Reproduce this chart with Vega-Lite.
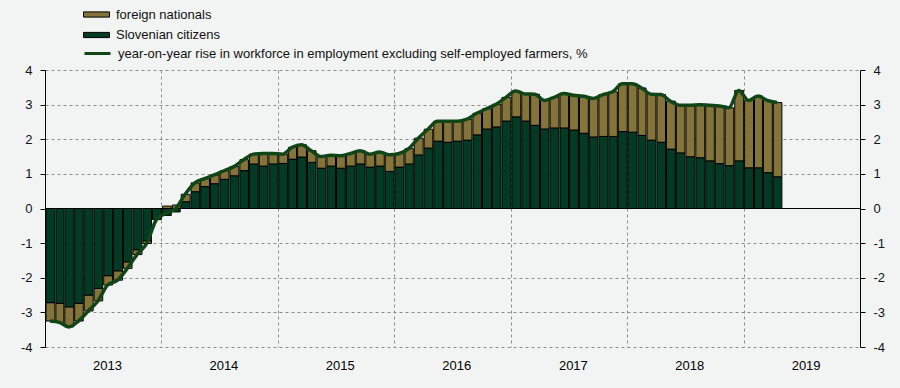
{
  "$schema": "https://vega.github.io/schema/vega-lite/v6.json",
  "width": 815,
  "height": 277,
  "autosize": "none",
  "padding": {"left": 45, "top": 70, "right": 40, "bottom": 41},
  "background": "#f2f4f3",
  "config": {
    "view": {"stroke": null},
    "font": "Liberation Sans",
    "axis": {"labelFont": "Liberation Sans", "labelFontSize": 13, "labelColor": "#111122", "title": null},
    "legend": {"labelFont": "Liberation Sans", "labelFontSize": 13, "labelColor": "#111111", "labelLimit": 700, "padding": 0, "title": null}
  },
  "data": {
    "values": [
      {"date": "2013-01-01", "slovenian": -2.72, "foreign": -0.53, "total": -3.25},
      {"date": "2013-02-01", "slovenian": -2.74, "foreign": -0.55, "total": -3.29},
      {"date": "2013-03-01", "slovenian": -2.84, "foreign": -0.58, "total": -3.42},
      {"date": "2013-04-01", "slovenian": -2.74, "foreign": -0.51, "total": -3.25},
      {"date": "2013-05-01", "slovenian": -2.50, "foreign": -0.46, "total": -2.96},
      {"date": "2013-06-01", "slovenian": -2.31, "foreign": -0.36, "total": -2.67},
      {"date": "2013-07-01", "slovenian": -1.94, "foreign": -0.27, "total": -2.21},
      {"date": "2013-08-01", "slovenian": -1.80, "foreign": -0.27, "total": -2.07},
      {"date": "2013-09-01", "slovenian": -1.54, "foreign": -0.19, "total": -1.73},
      {"date": "2013-10-01", "slovenian": -1.19, "foreign": -0.14, "total": -1.33},
      {"date": "2013-11-01", "slovenian": -0.93, "foreign": -0.08, "total": -1.01},
      {"date": "2013-12-01", "slovenian": -0.32, "foreign": 0.0, "total": -0.32},
      {"date": "2014-01-01", "slovenian": -0.20, "foreign": 0.07, "total": -0.13},
      {"date": "2014-02-01", "slovenian": -0.10, "foreign": 0.10, "total": 0.0},
      {"date": "2014-03-01", "slovenian": 0.19, "foreign": 0.22, "total": 0.41},
      {"date": "2014-04-01", "slovenian": 0.48, "foreign": 0.26, "total": 0.74},
      {"date": "2014-05-01", "slovenian": 0.63, "foreign": 0.23, "total": 0.86},
      {"date": "2014-06-01", "slovenian": 0.71, "foreign": 0.26, "total": 0.97},
      {"date": "2014-07-01", "slovenian": 0.84, "foreign": 0.25, "total": 1.09},
      {"date": "2014-08-01", "slovenian": 0.94, "foreign": 0.27, "total": 1.21},
      {"date": "2014-09-01", "slovenian": 1.09, "foreign": 0.32, "total": 1.41},
      {"date": "2014-10-01", "slovenian": 1.28, "foreign": 0.29, "total": 1.57},
      {"date": "2014-11-01", "slovenian": 1.22, "foreign": 0.37, "total": 1.59},
      {"date": "2014-12-01", "slovenian": 1.28, "foreign": 0.31, "total": 1.59},
      {"date": "2015-01-01", "slovenian": 1.30, "foreign": 0.27, "total": 1.57},
      {"date": "2015-02-01", "slovenian": 1.42, "foreign": 0.35, "total": 1.77},
      {"date": "2015-03-01", "slovenian": 1.48, "foreign": 0.36, "total": 1.84},
      {"date": "2015-04-01", "slovenian": 1.33, "foreign": 0.34, "total": 1.67},
      {"date": "2015-05-01", "slovenian": 1.16, "foreign": 0.34, "total": 1.50},
      {"date": "2015-06-01", "slovenian": 1.22, "foreign": 0.32, "total": 1.54},
      {"date": "2015-07-01", "slovenian": 1.16, "foreign": 0.36, "total": 1.52},
      {"date": "2015-08-01", "slovenian": 1.22, "foreign": 0.37, "total": 1.59},
      {"date": "2015-09-01", "slovenian": 1.28, "foreign": 0.39, "total": 1.67},
      {"date": "2015-10-01", "slovenian": 1.19, "foreign": 0.38, "total": 1.57},
      {"date": "2015-11-01", "slovenian": 1.22, "foreign": 0.41, "total": 1.63},
      {"date": "2015-12-01", "slovenian": 1.07, "foreign": 0.48, "total": 1.55},
      {"date": "2016-01-01", "slovenian": 1.19, "foreign": 0.40, "total": 1.59},
      {"date": "2016-02-01", "slovenian": 1.28, "foreign": 0.45, "total": 1.73},
      {"date": "2016-03-01", "slovenian": 1.54, "foreign": 0.49, "total": 2.03},
      {"date": "2016-04-01", "slovenian": 1.74, "foreign": 0.55, "total": 2.29},
      {"date": "2016-05-01", "slovenian": 1.94, "foreign": 0.58, "total": 2.52},
      {"date": "2016-06-01", "slovenian": 1.91, "foreign": 0.61, "total": 2.52},
      {"date": "2016-07-01", "slovenian": 1.94, "foreign": 0.58, "total": 2.52},
      {"date": "2016-08-01", "slovenian": 1.97, "foreign": 0.61, "total": 2.58},
      {"date": "2016-09-01", "slovenian": 2.12, "foreign": 0.63, "total": 2.75},
      {"date": "2016-10-01", "slovenian": 2.29, "foreign": 0.59, "total": 2.88},
      {"date": "2016-11-01", "slovenian": 2.35, "foreign": 0.66, "total": 3.01},
      {"date": "2016-12-01", "slovenian": 2.52, "foreign": 0.69, "total": 3.21},
      {"date": "2017-01-01", "slovenian": 2.64, "foreign": 0.75, "total": 3.39},
      {"date": "2017-02-01", "slovenian": 2.52, "foreign": 0.79, "total": 3.31},
      {"date": "2017-03-01", "slovenian": 2.40, "foreign": 0.90, "total": 3.30},
      {"date": "2017-04-01", "slovenian": 2.29, "foreign": 0.83, "total": 3.12},
      {"date": "2017-05-01", "slovenian": 2.32, "foreign": 0.89, "total": 3.21},
      {"date": "2017-06-01", "slovenian": 2.32, "foreign": 1.00, "total": 3.32},
      {"date": "2017-07-01", "slovenian": 2.26, "foreign": 1.01, "total": 3.27},
      {"date": "2017-08-01", "slovenian": 2.17, "foreign": 1.07, "total": 3.24},
      {"date": "2017-09-01", "slovenian": 2.06, "foreign": 1.12, "total": 3.18},
      {"date": "2017-10-01", "slovenian": 2.08, "foreign": 1.21, "total": 3.29},
      {"date": "2017-11-01", "slovenian": 2.08, "foreign": 1.29, "total": 3.37},
      {"date": "2017-12-01", "slovenian": 2.22, "foreign": 1.38, "total": 3.60},
      {"date": "2018-01-01", "slovenian": 2.20, "foreign": 1.40, "total": 3.60},
      {"date": "2018-02-01", "slovenian": 2.11, "foreign": 1.37, "total": 3.48},
      {"date": "2018-03-01", "slovenian": 1.97, "foreign": 1.33, "total": 3.30},
      {"date": "2018-04-01", "slovenian": 1.91, "foreign": 1.38, "total": 3.29},
      {"date": "2018-05-01", "slovenian": 1.71, "foreign": 1.39, "total": 3.10},
      {"date": "2018-06-01", "slovenian": 1.60, "foreign": 1.38, "total": 2.98},
      {"date": "2018-07-01", "slovenian": 1.49, "foreign": 1.49, "total": 2.98},
      {"date": "2018-08-01", "slovenian": 1.46, "foreign": 1.54, "total": 3.00},
      {"date": "2018-09-01", "slovenian": 1.37, "foreign": 1.61, "total": 2.98},
      {"date": "2018-10-01", "slovenian": 1.29, "foreign": 1.67, "total": 2.96},
      {"date": "2018-11-01", "slovenian": 1.23, "foreign": 1.68, "total": 2.91},
      {"date": "2018-12-01", "slovenian": 1.37, "foreign": 2.04, "total": 3.41},
      {"date": "2019-01-01", "slovenian": 1.17, "foreign": 1.95, "total": 3.12},
      {"date": "2019-02-01", "slovenian": 1.17, "foreign": 2.08, "total": 3.25},
      {"date": "2019-03-01", "slovenian": 1.03, "foreign": 2.09, "total": 3.12},
      {"date": "2019-04-01", "slovenian": 0.91, "foreign": 2.15, "total": 3.06}
    ]
  },
  "layer": [
    {
      "transform": [{"fold": ["foreign", "slovenian"], "as": ["group", "value"]}],
      "mark": {"type": "bar", "stroke": "#000000", "strokeWidth": 1},
      "encoding": {
        "x": {
          "field": "date", "type": "temporal", "timeUnit": "utcyearmonth",
          "scale": {"type": "utc", "nice": false, "domain": [{"year": 2013, "month": 1, "date": 1, "utc": true}, {"year": 2020, "month": 1, "date": 1, "utc": true}]},
          "axis": {
            "values": [
              {"year": 2013, "month": 1, "date": 1, "utc": true},
              {"year": 2014, "month": 1, "date": 1, "utc": true},
              {"year": 2015, "month": 1, "date": 1, "utc": true},
              {"year": 2016, "month": 1, "date": 1, "utc": true},
              {"year": 2017, "month": 1, "date": 1, "utc": true},
              {"year": 2018, "month": 1, "date": 1, "utc": true},
              {"year": 2019, "month": 1, "date": 1, "utc": true}
            ],
            "labelExpr": "utcFormat(datum.value, '%Y')", "labelOffset": 62, "labelPadding": 12,
            "ticks": false, "domain": false, "grid": true, "gridDash": [3, 3], "gridColor": "#8c8c8c",
            "labelColor": "#000000", "labelBound": false, "labelFlush": false, "labelOverlap": false
          }
        },
        "y": {
          "field": "value", "type": "quantitative", "stack": "zero",
          "scale": {"domain": [-4, 4], "nice": false},
          "axis": {
            "orient": "left", "values": [-4, -3, -2, -1, 0, 1, 2, 3, 4], "labelExpr": "'' + datum.value",
            "grid": true, "gridDash": [3, 3], "gridColor": "#8c8c8c",
            "gridOpacity": {"condition": {"test": "datum.value === 0", "value": 0}, "value": 1},
            "domainColor": "#000000", "tickColor": "#000000", "tickSize": 5, "labelPadding": 8
          }
        },
        "color": {
          "field": "group", "type": "nominal",
          "scale": {"domain": ["foreign", "slovenian"], "range": ["#84743a", "#023a24"]},
          "legend": {
            "orient": "none", "legendX": 44.5, "legendY": -62.5, "direction": "vertical",
            "labelExpr": "datum.label == 'foreign' ? 'foreign nationals' : 'Slovenian citizens'",
            "symbolType": "M-2,-0.4H2V0.4H-2Z", "symbolSize": 169, "symbolStrokeColor": "#000000", "symbolStrokeWidth": 1,
            "rowPadding": 6.5, "labelOffset": 12.5
          }
        },
        "order": {"field": "group", "sort": "descending"}
      }
    },
    {
      "mark": {"type": "rule", "color": "#000000", "strokeWidth": 1.2},
      "encoding": {
        "x": {"datum": {"year": 2013, "month": 1, "date": 1, "utc": true}, "type": "temporal"},
        "x2": {"datum": {"year": 2020, "month": 1, "date": 1, "utc": true}},
        "y": {"datum": 0, "type": "quantitative", "axis": null}
      }
    },
    {
      "mark": {"type": "line", "strokeWidth": 3.5, "interpolate": "monotone"},
      "encoding": {
        "x": {"field": "date", "type": "temporal", "timeUnit": "utcyearmonth", "bandPosition": 0.5},
        "y": {
          "field": "total", "type": "quantitative",
          "axis": {
            "orient": "right", "values": [-4, -3, -2, -1, 0, 1, 2, 3, 4], "labelExpr": "'' + datum.value", "grid": false,
            "domainColor": "#000000", "tickColor": "#000000", "tickSize": 5, "labelPadding": 8
          }
        },
        "stroke": {
          "datum": "year-on-year rise in workforce in employment excluding self-employed farmers, %",
          "type": "nominal",
          "scale": {"range": ["#104518"]},
          "legend": {
            "orient": "none", "legendX": 44.5, "legendY": -24.5,
            "symbolType": "M-2,0H2", "symbolSize": 169, "symbolStrokeWidth": 3, "labelOffset": 12.5
          }
        }
      }
    }
  ],
  "resolve": {"axis": {"y": "independent"}, "scale": {"color": "independent", "stroke": "independent"}}
}
